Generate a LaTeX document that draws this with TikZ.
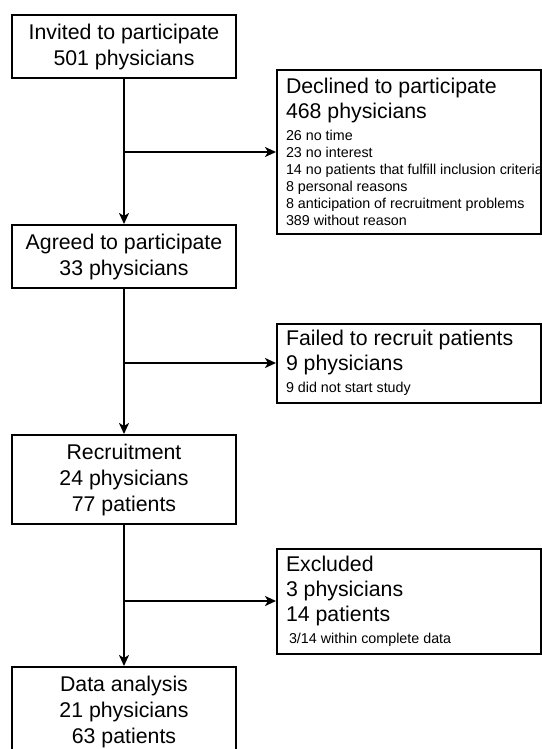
\documentclass[tikz,border=0pt]{standalone}
\usepackage{fontspec}
\setmainfont{Liberation Sans}
\usetikzlibrary{arrows.meta}
\newcommand{\notefont}{\fontsize{14.3}{17}\selectfont\spaceskip=0pt\xspaceskip=0pt}

\begin{document}
\begin{tikzpicture}[x=1pt,y=-1pt,
  leftbox/.style={draw,line width=2pt,minimum width=224pt,inner sep=0pt,align=center,font=\fontsize{21.3}{26}\selectfont},
  rightbox/.style={draw,line width=2pt,anchor=west,text width=246pt,inner xsep=9pt,inner ysep=0pt,align=flush left,font=\fontsize{21.3}{25}\selectfont},
  arr/.style={line width=2pt,-{Stealth[length=11pt,width=10pt,inset=3pt]}}]
\path[use as bounding box] (0,0) rectangle (541,749);
\node[leftbox,minimum height=63pt] (invited) at (124,46.5) {Invited to participate\\501 physicians};
\node[leftbox,minimum height=63pt] (agreed) at (124,256.5) {Agreed to participate\\33 physicians};
\node[leftbox,minimum height=89pt] (recruit) at (124,479.5) {Recruitment\\24 physicians\\77 patients};
\node[leftbox,minimum height=89pt] (analysis) at (124,711.5) {Data analysis\\21 physicians\\63 patients};
\node[rightbox,minimum height=164pt] (declined) at (276,152) {\spaceskip=0pt Declined to participate\\468 physicians\par\vspace{5pt}\notefont 26 no time\\23 no interest\\\makebox[\linewidth][l]{14 no patients that fulfill inclusion criteria}\\8 personal reasons\\8 anticipation of recruitment problems\\389 without reason\par};
\node[rightbox,minimum height=79pt] (failed) at (276,363) {\spaceskip=0pt Failed to recruit patients\\9 physicians\par\vspace{5pt}\notefont 9 did not start study\par};
\node[rightbox,minimum height=105pt] (excluded) at (276,601) {\spaceskip=0pt Excluded\\3 physicians\\14 patients\par\vspace{5pt}\notefont\hspace*{3pt}3/14 within complete data\par};
\draw[arr] (invited) -- (agreed);
\draw[arr] (agreed) -- (recruit);
\draw[arr] (recruit) -- (analysis);
\draw[arr] (invited.south |- declined.west) -- (declined.west);
\draw[arr] (agreed.south |- failed.west) -- (failed.west);
\draw[arr] (recruit.south |- excluded.west) -- (excluded.west);
\end{tikzpicture}
\end{document}
